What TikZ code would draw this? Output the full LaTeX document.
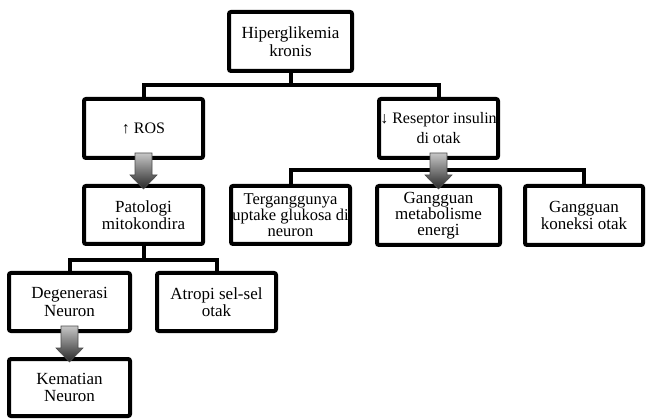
\documentclass[tikz,border=0pt]{standalone}
\usepackage{fontspec}
\setmainfont{Liberation Serif}
\usetikzlibrary{calc}
\begin{document}
\begin{tikzpicture}[x=1pt,y=-1pt,
  box/.style 2 args={draw, line width=4pt, rounded corners=2pt, align=center,
    inner sep=0pt, minimum width=#1, minimum height=#2,
    font=\fontsize{17}{17.5}\selectfont},
  conn/.style={line width=4pt},
  arrowshade/.style={top color=black!22, bottom color=black!85, draw=black!70, line width=0.6pt}]
\useasboundingbox[fill=white] (0,0) rectangle (647,419);

\node[box={123}{59}] (hip) at (290.5,41.5) {Hiperglikemia\\kronis};
\node[box={119}{59}, font=\fontsize{16}{20}\selectfont] (ros) at (143.5,128.5) {↑ ROS};
\node[box={119}{59}, font=\fontsize{16}{20}\selectfont] (res) at (438.5,128.5) {↓ Reseptor insulin\\di otak};
\node[box={119}{58}] (pat) at (143.5,215) {Patologi\\mitokondira};
\node[box={119}{58}, font=\fontsize{16.5}{16}\selectfont] (ter) at (290.5,215) {Terganggunya\\uptake glukosa di\\neuron};
\node[box={123}{59}, font=\fontsize{17}{16}\selectfont] (gme) at (438.5,215.5) {Gangguan\\metabolisme\\energi};
\node[box={118}{59}] (gko) at (584,215.5) {Gangguan\\koneksi otak};
\node[box={121}{58}] (deg) at (69.5,302) {Degenerasi\\Neuron};
\node[box={119}{58}] (atr) at (216.5,302) {Atropi sel-sel\\otak};
\node[box={121}{57}] (kem) at (69.5,387.5) {Kematian\\Neuron};

\coordinate (b1) at (0,85);
\coordinate (b2) at (0,170);
\coordinate (b3) at (0,260);

\draw[conn] (hip.south) -- (hip.south |- b1);
\draw[conn] (ros.north) -- (ros.north |- b1) -| (res.north);
\draw[conn] (res.south) -- (gme.north);
\draw[conn] (ter.north) -- (ter.north |- b2) -| (gko.north);
\draw[conn] (pat.south) -- (pat.south |- b3);
\draw[conn] (deg.north) -- (deg.north |- b3) -| (atr.north);

\newcommand\blockarrow[2]{%
  \path[arrowshade]
    ($(#1.south)+(-8.5,-7)$) -- ($(#1.south)+(8.5,-7)$) --
    ($(#2.north)+(8.5,-9)$) -- ($(#2.north)+(13.5,-9)$) --
    ($(#2.north)+(0,5)$) -- ($(#2.north)+(-13.5,-9)$) --
    ($(#2.north)+(-8.5,-9)$) -- cycle;}
\blockarrow{ros}{pat}
\blockarrow{res}{gme}
\blockarrow{deg}{kem}
\end{tikzpicture}
\end{document}
